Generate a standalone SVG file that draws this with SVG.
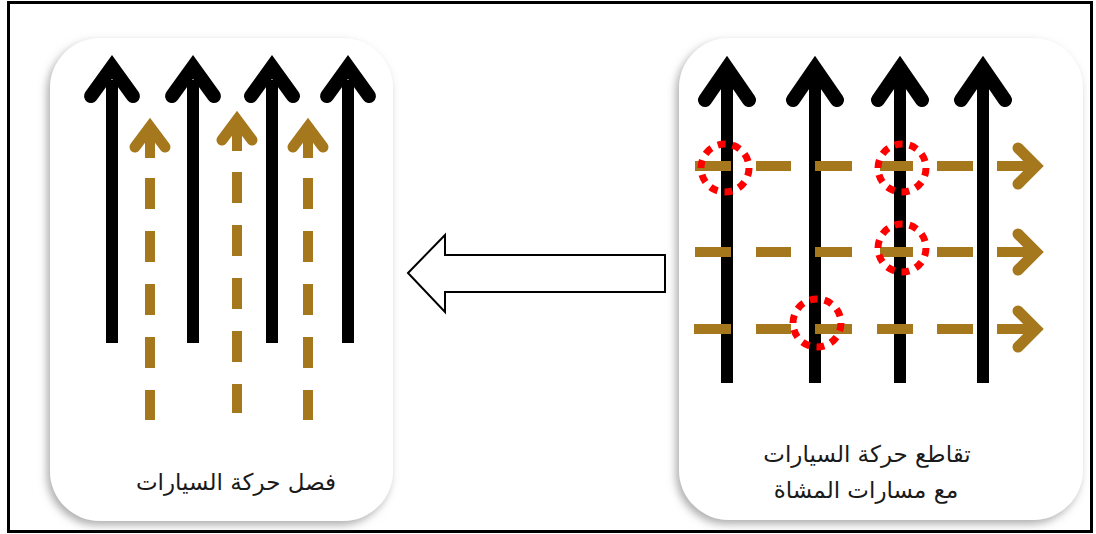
<svg xmlns="http://www.w3.org/2000/svg" width="1096" height="534" viewBox="0 0 1096 534">
<defs>
<filter id="sh" x="-10%" y="-10%" width="120%" height="120%">
<feDropShadow dx="-3" dy="4" stdDeviation="4" flood-color="#777" flood-opacity="0.6"/>
</filter>
<style>
.panel{fill:#fff;filter:url(#sh)}
.blk{stroke:#000;stroke-width:12;fill:none}
.bhead{stroke:#000;stroke-width:14;fill:none;stroke-linecap:round;stroke-linejoin:miter;stroke-miterlimit:10}
.brn{stroke:#A6781E;stroke-width:10;fill:none}
.brnv{stroke:#A6781E;stroke-width:10;fill:none;stroke-dasharray:31 22}
.nhead{stroke:#A6781E;stroke-width:11;fill:none;stroke-linecap:round;stroke-linejoin:miter;stroke-miterlimit:10}
.hd{stroke:#A6781E;stroke-width:10;fill:none}
.ring{fill:none;stroke:#FF0000;stroke-width:7;stroke-dasharray:8 7}
.lbl{font-family:"DejaVu Sans",sans-serif;font-size:23px;fill:#1a1a1a;text-anchor:middle;direction:rtl}
</style>
</defs>
<rect x="0" y="0" width="1096" height="534" fill="#fff"/>
<rect x="8.5" y="2.5" width="1083" height="529" fill="none" stroke="#000" stroke-width="3"/>

<g id="panel-left">
<rect class="panel" x="50" y="38" width="343" height="483" rx="50" ry="50"/>
<g id="left-cars">
<line class="blk" x1="112" y1="80" x2="112" y2="343"/>
<polyline class="bhead" points="91,96 112,67 133,96"/>
<line class="blk" x1="193" y1="80" x2="193" y2="343"/>
<polyline class="bhead" points="172,96 193,67 214,96"/>
<line class="blk" x1="272" y1="80" x2="272" y2="343"/>
<polyline class="bhead" points="251,96 272,67 293,96"/>
<line class="blk" x1="348" y1="80" x2="348" y2="343"/>
<polyline class="bhead" points="327,96 348,67 369,96"/>
</g>
<g id="left-lanes">
<line class="hd" x1="150" y1="128" x2="150" y2="158"/>
<polyline class="nhead" points="135,147 150,127 165,147"/>
<line class="brnv" x1="150" y1="178" x2="150" y2="420"/>
<line class="hd" x1="237" y1="121" x2="237" y2="151"/>
<polyline class="nhead" points="222,140 237,120 252,140"/>
<line class="brnv" x1="237" y1="172" x2="237" y2="413"/>
<line class="hd" x1="308" y1="128" x2="308" y2="158"/>
<polyline class="nhead" points="293,147 308,127 323,147"/>
<line class="brnv" x1="308" y1="178" x2="308" y2="420"/>
</g>
<text class="lbl" x="236" y="490">فصل حركة السيارات</text>
</g>

<g id="panel-right">
<rect class="panel" x="679" y="38" width="404" height="482" rx="50" ry="50"/>
<g id="right-cars">
<line class="blk" x1="727" y1="80" x2="727" y2="383"/>
<polyline class="bhead" points="705,100 727,68 749,100"/>
<line class="blk" x1="815" y1="80" x2="815" y2="383"/>
<polyline class="bhead" points="793,100 815,68 837,100"/>
<line class="blk" x1="900" y1="80" x2="900" y2="383"/>
<polyline class="bhead" points="878,100 900,68 922,100"/>
<line class="blk" x1="983" y1="80" x2="983" y2="383"/>
<polyline class="bhead" points="961,100 983,68 1005,100"/>
</g>
<g id="right-walk">
<g class="brn">
<line x1="695" y1="166" x2="731" y2="166"/><line x1="756" y1="166" x2="791" y2="166"/><line x1="815" y1="166" x2="852" y2="166"/><line x1="880" y1="166" x2="913" y2="166"/><line x1="937" y1="166" x2="973" y2="166"/><line x1="997" y1="166" x2="1034" y2="166"/>
<line x1="695" y1="252" x2="731" y2="252"/><line x1="756" y1="252" x2="791" y2="252"/><line x1="815" y1="252" x2="852" y2="252"/><line x1="880" y1="252" x2="913" y2="252"/><line x1="937" y1="252" x2="973" y2="252"/><line x1="997" y1="252" x2="1034" y2="252"/>
<line x1="694" y1="329" x2="731" y2="329"/><line x1="756" y1="329" x2="791" y2="329"/><line x1="815" y1="329" x2="852" y2="329"/><line x1="877" y1="329" x2="913" y2="329"/><line x1="937" y1="329" x2="973" y2="329"/><line x1="997" y1="329" x2="1034" y2="329"/>
</g>
<polyline class="nhead" points="1018,148 1036,166 1018,184"/>
<polyline class="nhead" points="1018,234 1036,252 1018,270"/>
<polyline class="nhead" points="1018,311 1036,329 1018,347"/>
</g>
<g id="conflicts">
<circle class="ring" cx="725" cy="168" r="24"/>
<circle class="ring" cx="902" cy="168" r="24"/>
<circle class="ring" cx="902" cy="248" r="24"/>
<circle class="ring" cx="817" cy="323" r="24"/>
</g>
<text class="lbl" x="867" y="462">تقاطع حركة السيارات</text>
<text class="lbl" x="866" y="498">مع مسارات المشاة</text>
</g>

<g id="connectors">
<path d="M408,273 L445,235 L445,255 L665,255 L665,292 L445,292 L445,312 Z" fill="#fff" stroke="#000" stroke-width="2"/>
</g>
</svg>
